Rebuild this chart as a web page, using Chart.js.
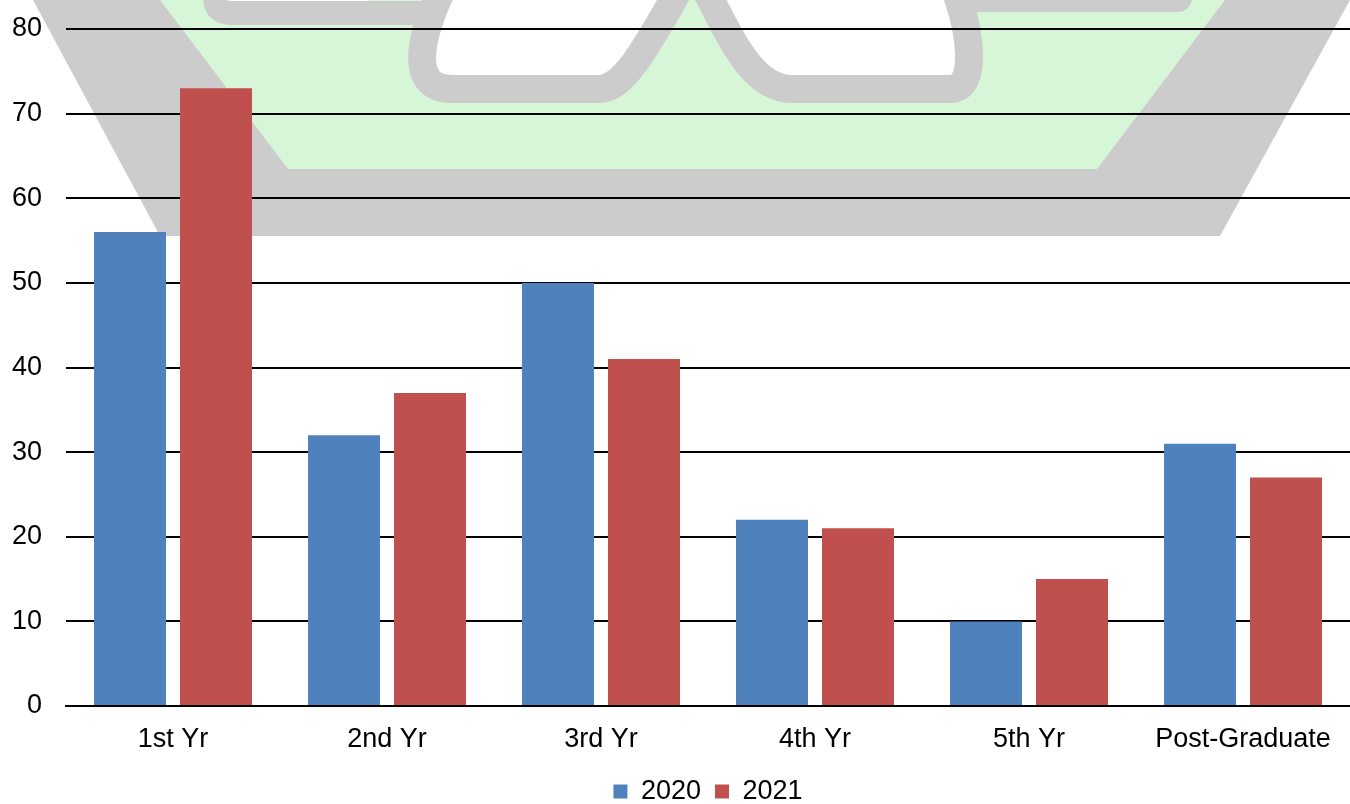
<!DOCTYPE html>
<html>
<head>
<meta charset="utf-8">
<script src="https://cdn.jsdelivr.net/npm/chart.js@4.4.0/dist/chart.umd.min.js"></script>
<style>
  html, body { margin: 0; padding: 0; background: #fff; }
  #wrap { width: 1350px; height: 804px; position: relative; }
</style>
</head>
<body>
<div id="wrap"><canvas id="chart"></canvas></div>
<script>
// chart data
const categories = ['1st Yr', '2nd Yr', '3rd Yr', '4th Yr', '5th Yr', 'Post-Graduate'];
const seriesNames = ['2020', '2021'];
const values2020 = [56, 32, 50, 22, 10, 31];
const values2021 = [73, 37, 41, 21, 15, 27];
const yTicks = [0, 10, 20, 30, 40, 50, 60, 70, 80];

const palette = {
  blue: '#4F81BD',
  red: '#C0504D',
  grey: '#CCCCCC',
  green: '#D7F5D7'
};

// faded sunglasses picture sitting behind the plot
const watermark = {
  id: 'watermark',
  beforeDraw(chart) {
    const ctx = chart.ctx;
    ctx.save();
    ctx.fillStyle = palette.grey;
    ctx.beginPath();
    ctx.moveTo(33, 0); ctx.lineTo(1350, 0); ctx.lineTo(1220, 236); ctx.lineTo(160, 236);
    ctx.closePath(); ctx.fill();

    ctx.fillStyle = palette.green;
    ctx.beginPath();
    ctx.moveTo(160, 0); ctx.lineTo(1225, 0); ctx.lineTo(1097, 169); ctx.lineTo(288, 169);
    ctx.closePath(); ctx.fill();

    ctx.strokeStyle = palette.grey;
    ctx.fillStyle = '#fff';
    ctx.lineJoin = 'round';
    ctx.lineCap = 'round';

    // left lens bottom rim
    ctx.lineWidth = 24;
    ctx.beginPath();
    ctx.moveTo(215, -30); ctx.lineTo(215, -2);
    ctx.quadraticCurveTo(215, 13, 232, 13);
    ctx.lineTo(430, 13);
    ctx.fill(); ctx.stroke();

    // middle lens
    ctx.lineWidth = 28;
    ctx.beginPath();
    ctx.moveTo(452, -30);
    ctx.bezierCurveTo(420, 30, 405, 89, 452, 89);
    ctx.lineTo(598, 89);
    ctx.bezierCurveTo(622, 89, 640, 60, 690, -30);
    ctx.fill(); ctx.stroke();

    // right lens
    ctx.beginPath();
    ctx.moveTo(690, -40);
    ctx.bezierCurveTo(728, 30, 748, 89, 792, 89);
    ctx.lineTo(950, 89);
    ctx.bezierCurveTo(976, 89, 972, 40, 958, -2);
    ctx.lineTo(1178, -2);
    ctx.fill(); ctx.stroke();
    ctx.restore();
  }
};

const font = { family: '"Liberation Sans", Arial, Helvetica, sans-serif', size: 27 };

new Chart(document.getElementById('chart'), {
  type: 'bar',
  data: {
    labels: categories,
    datasets: [
      { label: seriesNames[0], data: values2020, backgroundColor: palette.blue },
      { label: seriesNames[1], data: values2021, backgroundColor: palette.red }
    ]
  },
  options: {
    responsive: true,
    maintainAspectRatio: false,
    animation: false,
    categoryPercentage: 0.804,
    barPercentage: 0.837,
    layout: { padding: { top: 29, left: 0, right: 0, bottom: -11 } },
    plugins: {
      tooltip: { enabled: false },
      legend: {
        position: 'bottom',
        fullSize: false,
        labels: { font, color: '#000', boxWidth: 14, boxHeight: 14, padding: 14 }
      }
    },
    scales: {
      x: {
        grid: { display: false, drawTicks: false },
        border: { display: true, color: '#000', width: 2 },
        ticks: { font, color: '#000', padding: 17 },
        afterFit(scale) { scale.height = 58; }
      },
      y: {
        min: 0,
        max: 80,
        afterBuildTicks(scale) { scale.ticks = yTicks.map(v => ({ value: v })); },
        afterFit(scale) {
          scale.width = 66;
          scale.paddingTop = 0;
          scale.paddingBottom = 0;
        },
        grid: { color: '#000', lineWidth: 2, drawTicks: false },
        border: { display: false },
        ticks: { font, color: '#000', padding: 24 }
      }
    }
  },
  plugins: [watermark]
});
</script>
</body>
</html>
